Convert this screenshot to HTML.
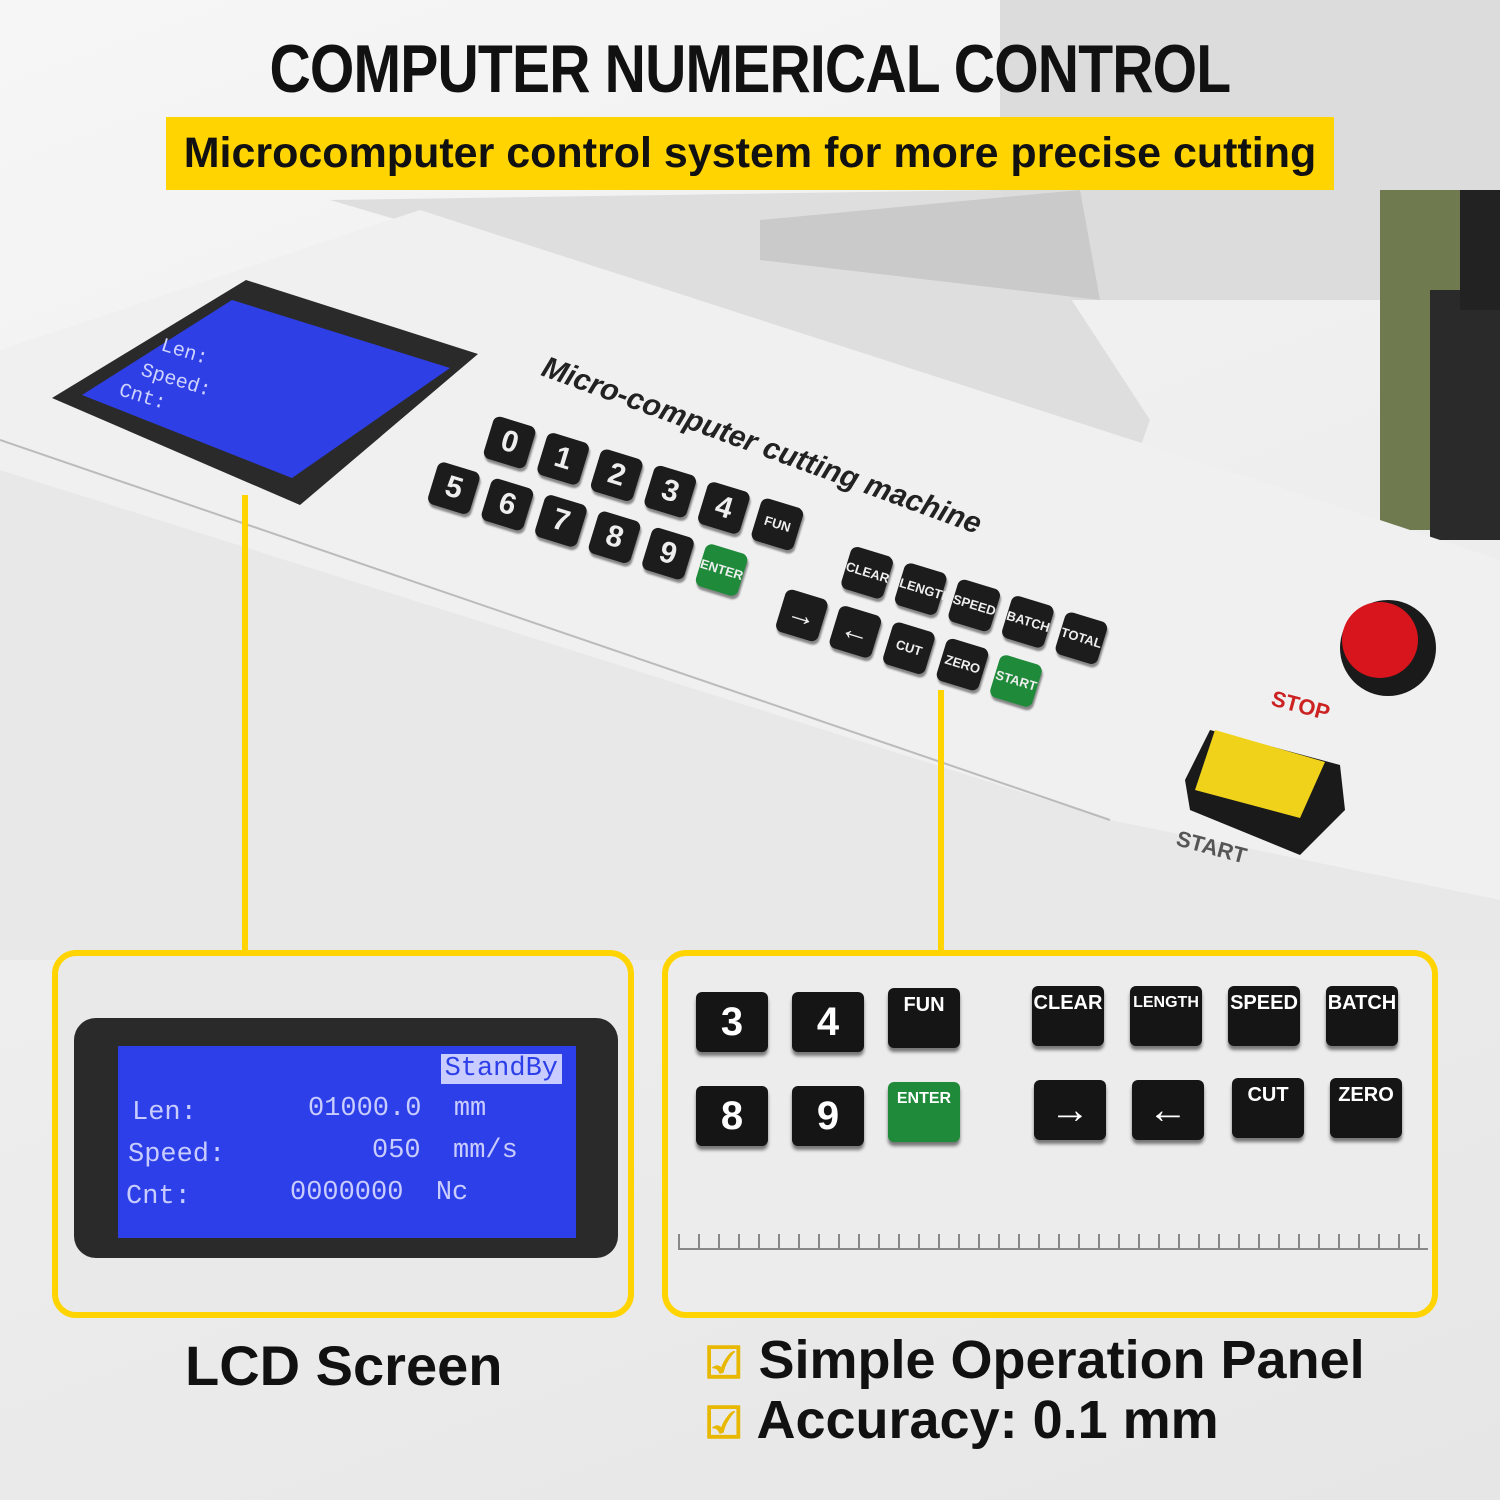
<!DOCTYPE html>
<html><head><meta charset="utf-8"><style>
body{margin:0;width:1500px;height:1500px;overflow:hidden;background:#eeeeee;font-family:"Liberation Sans",sans-serif;position:relative}
.a{position:absolute}
.k{position:absolute;width:44px;height:44px;background:#1c1c1c;border-radius:7px;color:#eee;font-weight:bold;font-size:30px;text-align:center;line-height:44px;box-shadow:2px 3px 2px #888}
.s{font-size:13px}
.key2{position:absolute;width:72px;height:60px;background:#151515;border-radius:6px;color:#fff;font-weight:bold;text-align:center;line-height:60px;font-size:40px;box-shadow:0 4px 3px #777}
.key2.t{font-size:20px;line-height:34px}
</style></head><body>
<div class="a" style="left:0;top:0;width:1500px;height:1500px;background:linear-gradient(160deg,#f6f6f6 0%,#ececec 60%,#e6e6e6 100%)"></div>
<div class="a" style="left:1000px;top:0;width:500px;height:300px;background:#dcdcdc"></div>
<div class="a" style="left:1380px;top:190px;width:120px;height:340px;background:#6f7a4e"></div>
<div class="a" style="left:1430px;top:290px;width:70px;height:250px;background:#2a2a2a"></div>
<div class="a" style="left:1460px;top:190px;width:40px;height:120px;background:#222"></div>
<svg class="a" style="left:0;top:0" width="1500" height="1500">
<polygon points="330,200 1000,190 1150,420 1100,560 500,250" fill="#dedede"/>
<polygon points="760,220 1080,190 1100,300 760,260" fill="#cacaca"/>
<polygon points="0,350 420,210 1380,520 1500,560 1500,950 0,950" fill="#f0f0f0"/>
<polygon points="0,470 1110,820 1500,900 1500,960 0,960 0,560" fill="#e8e8e8"/>
<line x1="0" y1="440" x2="1110" y2="820" stroke="#bbb" stroke-width="2"/>
<polygon points="52,398 246,280 478,354 300,505" fill="#2a2a2a"/>
<polygon points="82,395 232,300 450,368 292,478" fill="#2f3fe6"/>
<text x="160" y="350" fill="#cfd4ff" font-size="20" font-family="Liberation Mono" transform="rotate(17 160 350)">Len:</text>
<text x="140" y="375" fill="#cfd4ff" font-size="20" font-family="Liberation Mono" transform="rotate(17 140 375)">Speed:</text>
<text x="118" y="395" fill="#cfd4ff" font-size="20" font-family="Liberation Mono" transform="rotate(17 118 395)">Cnt:</text>
<text x="540" y="375" fill="#222" font-size="30" font-weight="bold" font-style="italic" transform="rotate(20 540 375)">Micro-computer cutting machine</text>
<circle cx="1388" cy="648" r="48" fill="#1a1a1a"/><circle cx="1380" cy="640" r="38" fill="#d8141c"/>
<text x="1270" y="705" fill="#c22" font-size="22" font-weight="bold" transform="rotate(15 1270 705)">STOP</text>
<polygon points="1210,730 1340,765 1345,810 1300,855 1190,810 1185,780" fill="#1a1a1a"/>
<polygon points="1215,730 1325,762 1300,818 1195,790" fill="#f0d21a"/>
<text x="1175" y="845" fill="#555" font-size="22" font-weight="bold" transform="rotate(15 1175 845)">START</text>
<line x1="245" y1="495" x2="245" y2="952" stroke="#ffd400" stroke-width="6"/>
<line x1="941" y1="690" x2="941" y2="952" stroke="#ffd400" stroke-width="6"/>
</svg>
<div class="a" style="left:495px;top:415px;transform:rotate(17deg);transform-origin:0 0">
<div class="k" style="left:0;top:0">0</div><div class="k" style="left:56px;top:0">1</div><div class="k" style="left:112px;top:0">2</div><div class="k" style="left:168px;top:0">3</div><div class="k" style="left:224px;top:0">4</div><div class="k s" style="left:280px;top:0">FUN</div>
<div class="k" style="left:-40px;top:60px">5</div><div class="k" style="left:16px;top:60px">6</div><div class="k" style="left:72px;top:60px">7</div><div class="k" style="left:128px;top:60px">8</div><div class="k" style="left:184px;top:60px">9</div><div class="k s" style="left:240px;top:60px;background:#1e8a3a">ENTER</div>
<div class="k s" style="left:380px;top:20px">CLEAR</div><div class="k s" style="left:436px;top:20px">LENGTH</div><div class="k s" style="left:492px;top:20px">SPEED</div><div class="k s" style="left:548px;top:20px">BATCH</div><div class="k s" style="left:604px;top:20px">TOTAL</div>
<div class="k" style="left:330px;top:80px">→</div><div class="k" style="left:386px;top:80px">←</div><div class="k s" style="left:442px;top:80px">CUT</div><div class="k s" style="left:498px;top:80px">ZERO</div><div class="k s" style="left:554px;top:80px;background:#1e8a3a">START</div>
</div>
<div class="a" style="left:0;top:30px;width:1500px;text-align:center;font-size:68px;font-weight:bold;color:#111;letter-spacing:-1px"><span style="display:inline-block;transform:scaleX(0.84)">COMPUTER NUMERICAL CONTROL</span></div>
<div class="a" style="left:166px;top:117px;width:1168px;height:73px;background:#ffd400;text-align:center;line-height:73px;font-size:43px;font-weight:bold;color:#111">Microcomputer control system for more precise cutting</div>
<div class="a" style="left:52px;top:950px;width:570px;height:356px;border:6px solid #ffd400;border-radius:24px;background:#e9e9e9;overflow:hidden">
<div class="a" style="left:16px;top:62px;width:544px;height:240px;background:#2a2a2a;border-radius:22px"></div>
<div class="a" style="left:60px;top:90px;width:458px;height:192px;background:#2d3fe8;color:#c8ccff;font-family:'Liberation Mono',monospace;font-size:27px">
<div class="a" style="right:14px;top:8px;background:#c8ccff;color:#2d3fe8;padding:0 4px">StandBy</div>
<div class="a" style="left:14px;top:52px">Len:</div><div class="a" style="left:190px;top:48px">01000.0&nbsp; mm</div>
<div class="a" style="left:10px;top:94px">Speed:</div><div class="a" style="left:254px;top:90px">050&nbsp; mm/s</div>
<div class="a" style="left:8px;top:136px">Cnt:</div><div class="a" style="left:172px;top:132px">0000000&nbsp; Nc</div>
</div></div>
<div class="a" style="left:662px;top:950px;width:764px;height:356px;border:6px solid #ffd400;border-radius:24px;background:#ececec;overflow:hidden">
<div class="key2" style="left:28px;top:36px">3</div><div class="key2" style="left:124px;top:36px">4</div><div class="key2 t" style="left:220px;top:32px">FUN</div>
<div class="key2 t" style="left:364px;top:30px">CLEAR</div><div class="key2 t" style="left:462px;top:30px;font-size:16px">LENGTH</div><div class="key2 t" style="left:560px;top:30px">SPEED</div><div class="key2 t" style="left:658px;top:30px">BATCH</div>
<div class="key2" style="left:28px;top:130px">8</div><div class="key2" style="left:124px;top:130px">9</div><div class="key2 t" style="left:220px;top:126px;background:#1e8a3a;font-size:16px">ENTER</div>
<div class="key2" style="left:366px;top:124px">→</div><div class="key2" style="left:464px;top:124px">←</div><div class="key2 t" style="left:564px;top:122px">CUT</div><div class="key2 t" style="left:662px;top:122px">ZERO</div>
<div class="a" style="left:10px;top:292px;width:750px;height:2px;background:#888"></div>
<div class="a" style="left:10px;top:278px;width:750px;height:14px;background:repeating-linear-gradient(90deg,#888 0 2px,transparent 2px 20px)"></div>
</div>
<div class="a" style="left:185px;top:1333px;font-size:56px;font-weight:bold;color:#111">LCD Screen</div>
<div class="a" style="left:704px;top:1332px;font-size:54px;font-weight:bold;color:#111;line-height:57px"><span style="color:#e8b800;font-size:44px">☑</span> Simple Operation Panel<br><span style="color:#e8b800;font-size:44px">☑</span> Accuracy: 0.1 mm</div>
</body></html>
